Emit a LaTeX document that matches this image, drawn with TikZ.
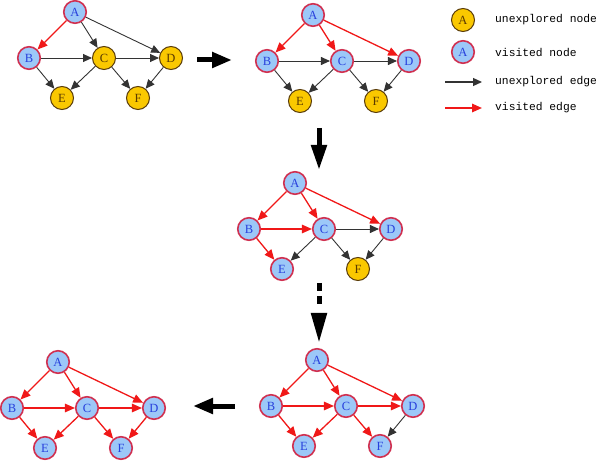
\documentclass[tikz,border=0pt]{standalone}
\usepackage{fontspec}
\setmainfont{Liberation Serif}
\setmonofont{Liberation Mono}
\usetikzlibrary{arrows.meta}

\definecolor{vfill}{RGB}{156,200,248}
\definecolor{vborder}{RGB}{208,48,80}
\definecolor{vtext}{RGB}{40,64,220}
\definecolor{ufill}{RGB}{250,200,0}
\definecolor{uborder}{RGB}{90,60,10}
\definecolor{utext}{RGB}{90,58,0}
\definecolor{ered}{RGB}{240,24,24}

\tikzset{
  vnode/.style={circle, draw=vborder, fill=vfill, line width=1.6pt, minimum size=22.5pt, inner sep=0pt, text=vtext, font=\fontsize{12.5}{12}\selectfont},
  unode/.style={circle, draw=uborder, fill=ufill, line width=1pt, minimum size=23pt, inner sep=0pt, text=utext, font=\fontsize{12.5}{12}\selectfont},
  vedge/.style={draw=ered, line width=1.3pt, -{Triangle[length=10pt, width=8.5pt]}},
  uedge/.style={draw=black!80, line width=0.9pt, -{Triangle[length=9pt, width=8pt]}},
  bigarrow/.style={line width=5pt, -{Triangle[length=#1, width=15pt]}},
  legend/.style={anchor=west, inner sep=0pt, font=\ttfamily\fontsize{11.3}{12}\selectfont}
}

\newcommand{\graphnodes}[6]{%
  \begin{scope}[shift={#2}]
    \node[vnode] (A#1) at (0,0) {A};
    \node[vnode] (B#1) at (-46,46) {B};
    \node[#3] (C#1) at (29,46) {C};
    \node[#4] (D#1) at (96,46) {D};
    \node[#5] (E#1) at (-13,86) {E};
    \node[#6] (F#1) at (63,86) {F};
  \end{scope}}

\begin{document}
\begin{tikzpicture}[x=1pt, y=-1pt]
  \useasboundingbox (0,0) rectangle (600,462);

  \graphnodes{1}{(75,12)}{unode}{unode}{unode}{unode}
  \draw[vedge] (A1) -- (B1);
  \draw[uedge] (A1) -- (C1);
  \draw[uedge] (A1) -- (D1);
  \draw[uedge] (B1) -- (C1);
  \draw[uedge] (B1) -- (E1);
  \draw[uedge] (C1) -- (D1);
  \draw[uedge] (C1) -- (E1);
  \draw[uedge] (C1) -- (F1);
  \draw[uedge] (D1) -- (F1);

  \graphnodes{2}{(313,15)}{vnode}{vnode}{unode}{unode}
  \draw[vedge] (A2) -- (B2);
  \draw[vedge] (A2) -- (C2);
  \draw[vedge] (A2) -- (D2);
  \draw[uedge] (B2) -- (C2);
  \draw[uedge] (B2) -- (E2);
  \draw[uedge] (C2) -- (D2);
  \draw[uedge] (C2) -- (E2);
  \draw[uedge] (C2) -- (F2);
  \draw[uedge] (D2) -- (F2);

  \graphnodes{3}{(295,183)}{vnode}{vnode}{vnode}{unode}
  \draw[vedge] (A3) -- (B3);
  \draw[vedge] (A3) -- (C3);
  \draw[vedge] (A3) -- (D3);
  \draw[vedge] (B3) -- (C3);
  \draw[vedge] (B3) -- (E3);
  \draw[uedge] (C3) -- (D3);
  \draw[uedge] (C3) -- (E3);
  \draw[uedge] (C3) -- (F3);
  \draw[uedge] (D3) -- (F3);

  \graphnodes{4}{(317,360)}{vnode}{vnode}{vnode}{vnode}
  \draw[vedge] (A4) -- (B4);
  \draw[vedge] (A4) -- (C4);
  \draw[vedge] (A4) -- (D4);
  \draw[vedge] (B4) -- (C4);
  \draw[vedge] (B4) -- (E4);
  \draw[vedge] (C4) -- (D4);
  \draw[vedge] (C4) -- (E4);
  \draw[vedge] (C4) -- (F4);
  \draw[uedge] (D4) -- (F4);

  \graphnodes{5}{(58,362)}{vnode}{vnode}{vnode}{vnode}
  \draw[vedge] (A5) -- (B5);
  \draw[vedge] (A5) -- (C5);
  \draw[vedge] (A5) -- (D5);
  \draw[vedge] (B5) -- (C5);
  \draw[vedge] (B5) -- (E5);
  \draw[vedge] (C5) -- (D5);
  \draw[vedge] (C5) -- (E5);
  \draw[vedge] (C5) -- (F5);
  \draw[vedge] (D5) -- (F5);

  % steps
  \coordinate (s1) at (197,60);
  \coordinate (t1) at (232,60);
  \coordinate (s2) at (319,128);
  \coordinate (t2) at (319,170);
  \coordinate (s3) at (319,283);
  \coordinate (t3) at (319,343);
  \coordinate (s4) at (235,406);
  \coordinate (t4) at (193,406);
  \draw[bigarrow=20pt] (s1) -- (t1);
  \draw[bigarrow=25pt] (s2) -- (t2);
  \draw[bigarrow=30pt, dash pattern=on 8pt off 5pt on 8pt off 60pt] (s3) -- (t3);
  \draw[bigarrow=20pt] (s4) -- (t4);

  % legend
  \node[unode] (lu) at (463,20) {A};
  \node[vnode] (lv) at (463,52) {A};
  \coordinate (le1) at (445,82);
  \coordinate (le2) at (482,82);
  \coordinate (lr1) at (445,108);
  \coordinate (lr2) at (482,108);
  \draw[uedge, line width=1.2pt] (le1) -- (le2);
  \draw[vedge, line width=1.6pt] (lr1) -- (lr2);
  \node[legend] at (495,20) {unexplored node};
  \node[legend] at (495,52) {visited node};
  \node[legend] at (495,82) {unexplored edge};
  \node[legend] at (495,108) {visited edge};
\end{tikzpicture}
\end{document}
